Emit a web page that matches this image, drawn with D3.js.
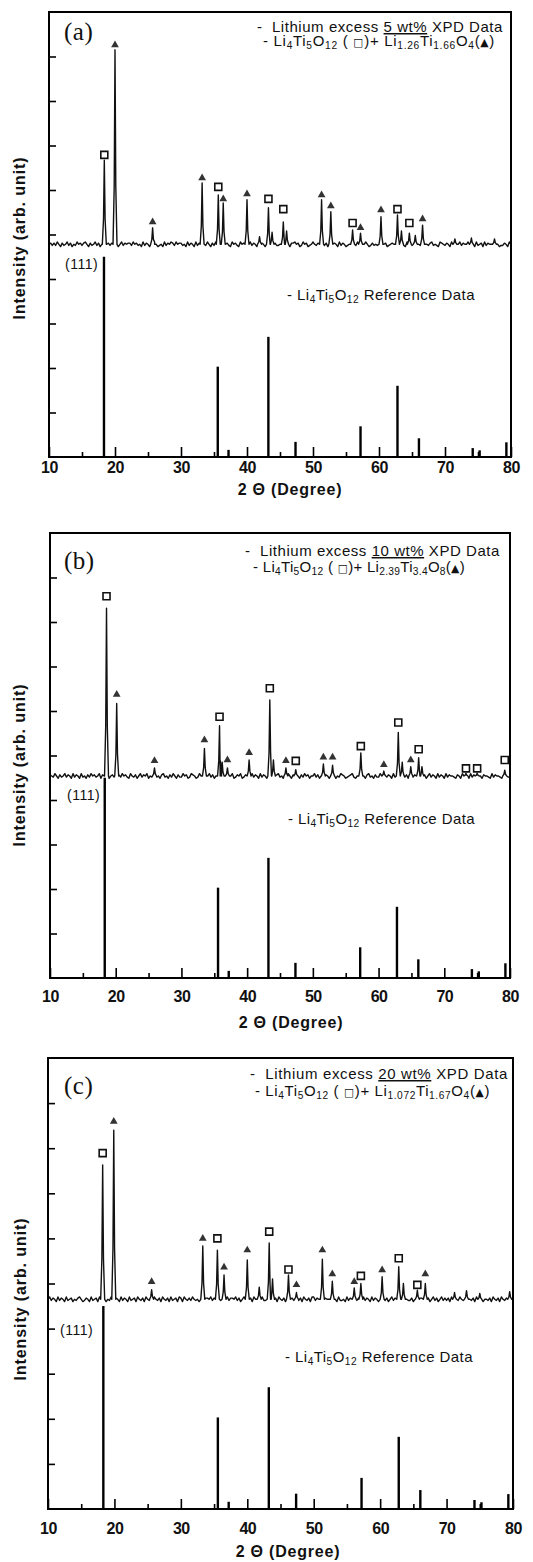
<!DOCTYPE html>
<html>
<head>
<meta charset="utf-8">
<script src="https://cdn.jsdelivr.net/npm/d3@7"></script>
<style>
  body { margin: 0; background: #fff; }
  svg { display: block; }
  text { font-family: "Liberation Sans", Arial, sans-serif; fill: #111; white-space: pre; }
</style>
</head>
<body>
<svg width="533" height="1562"></svg>
<script>
// axis ticks
var xMajor = [10, 20, 30, 40, 50, 60, 70, 80];
var xMinor = [15, 25, 35, 45, 55, 65, 75];
var yTicks = [1, 2, 3, 4, 5, 6, 7, 8, 9];

// Li4Ti5O12 reference pattern (same stick pattern in every panel)
var refPos = [18.33, 35.57, 37.2, 43.24, 47.35, 57.2, 62.8, 66.05, 74.2, 75.25, 79.3];
var refInt = [4.5, 2.03, 0.16, 2.7, 0.34, 0.69, 1.6, 0.42, 0.2, 0.15, 0.33];

// measured peaks: [2theta, peak top, marker height, phase ("s" = Li4Ti5O12, "t" = second phase)]
var peaksA = [
  [18.38, 6.67, 6.79, "s"], [20.0, 9.15, 9.26, "t"], [25.7, 5.15, 5.28, "t"],
  [33.2, 6.16, 6.27, "t"], [35.65, 5.89, 6.07, "s"], [36.4, 5.71, 5.80, "t"],
  [40.0, 5.78, 5.91, "t"], [41.9, 4.95, 0, ""], [43.25, 5.60, 5.80, "s"],
  [43.8, 5.05, 0, ""], [45.5, 5.28, 5.57, "s"], [46.0, 5.08, 0, ""],
  [51.3, 5.78, 5.89, "t"], [52.7, 5.51, 5.64, "t"], [56.0, 5.10, 5.26, "s"],
  [57.2, 5.03, 5.15, "t"], [60.3, 5.40, 5.55, "t"], [62.8, 5.44, 5.57, "s"],
  [63.4, 5.08, 0, ""], [64.6, 5.03, 5.26, "s"], [65.5, 4.98, 0, ""],
  [66.6, 5.21, 5.35, "t"], [71.5, 4.90, 0, ""], [74.0, 4.92, 0, ""], [77.5, 4.90, 0, ""]
];
var peaksB = [
  [18.6, 8.31, 8.58, "s"], [20.15, 6.17, 6.37, "t"], [25.9, 4.72, 4.88, "t"],
  [33.5, 5.16, 5.35, "t"], [35.8, 5.67, 5.87, "s"], [36.2, 4.85, 0, ""],
  [37.0, 4.72, 4.90, "t"], [40.3, 4.90, 5.06, "t"], [43.45, 6.25, 6.51, "s"],
  [44.0, 4.90, 0, ""], [45.9, 4.72, 4.88, "t"], [47.4, 4.68, 4.88, "s"],
  [51.6, 4.81, 4.96, "t"], [53.0, 4.78, 4.96, "t"], [57.3, 5.06, 5.21, "s"],
  [60.8, 4.65, 4.79, "t"], [63.0, 5.52, 5.74, "s"], [63.6, 4.85, 0, ""],
  [64.9, 4.75, 4.90, "t"], [66.1, 4.95, 5.14, "s"], [66.6, 4.75, 0, ""],
  [73.3, 4.60, 4.71, "s"], [75.0, 4.60, 4.71, "s"], [79.2, 4.67, 4.90, "s"]
];
var peaksC = [
  [18.23, 7.63, 7.89, "s"], [19.9, 8.40, 8.59, "t"], [25.6, 4.86, 5.04, "t"],
  [33.3, 5.83, 6.00, "t"], [35.5, 5.74, 6.00, "s"], [36.5, 5.19, 5.36, "t"],
  [40.0, 5.52, 5.74, "t"], [41.8, 4.92, 0, ""], [43.3, 5.90, 6.15, "s"],
  [43.8, 5.10, 0, ""], [46.2, 5.19, 5.31, "s"], [47.4, 4.80, 4.97, "t"],
  [51.3, 5.54, 5.74, "t"], [52.8, 5.05, 5.21, "t"], [56.1, 4.90, 5.04, "t"],
  [57.1, 5.00, 5.17, "s"], [60.3, 5.15, 5.30, "t"], [62.8, 5.37, 5.56, "s"],
  [63.5, 5.00, 0, ""], [65.6, 4.85, 4.97, "s"], [66.8, 5.00, 5.21, "t"],
  [71.2, 4.80, 0, ""], [73.0, 4.84, 0, ""], [75.0, 4.78, 0, ""], [79.5, 4.82, 0, ""]
];

// background level of each measured pattern
var baseA = 4.78, baseB = 4.54, baseC = 4.65;

// baseline noise read every 0.25 deg from 10 to 80 (one digit per step)
var noiseA = "2313142031241302142313420312413021423132" +
             "1302413233142312041320314201204132431423" +
             "3120413204132031420314213042310423104231" +
             "2041320213203142031120314203342301423012" +
             "4213024130241320413201230214031242013121" +
             "0142301232104121043213032104221341210432" +
             "1320413024132241310412304132241320113204" + "2";
var noiseB = "3214203124132041320412031423124032140231" +
             "2031423104213024132402134120341203142031" +
             "1423014320142031241302413204132401324013" +
             "3204132041320314203412031420341203142302" +
             "2413024132041302143201234102431203412031" +
             "1420313204123042130241320412302413204132" +
             "0413221032042130413314203221041322104321" + "1";
var noiseC = "2413204132041230213420132041230413202143" +
             "1320413204123042130421304213042130412304" +
             "3042131421204213324130241102413324130241" +
             "2130421304113042230421304213142130421304" +
             "4132041322413204112041320413244132041320" +
             "0241302413024130211302413324130241302413" +
             "1304213142130421304213022130421304213042" + "2";

// text
var panelLetters = ["(a)", "(b)", "(c)"];
var excessLabels = ["5 wt%", "10 wt%", "20 wt%"];
var secondPhase = [
  ["1.26", "1.66", "4"],
  ["2.39", "3.4", "8"],
  ["1.072", "1.67", "4"]
];

var panels = [
  {peaks: peaksA, base: baseA, noise: noiseA,
   left: 49, right: 511, top: 12, bottom: 457, letterY: 40,
   leg1: [257, 32, 246], leg2: [263, 46, 232], refText: [287, 300, 188], hkl: [65, 269],
   tickPad: 5, title: [290, 495], yTitle: [19, 238]},
  {peaks: peaksB, base: baseB, noise: noiseB,
   left: 50, right: 510, top: 533, bottom: 978, letterY: 569,
   leg1: [245, 556, 255], leg2: [253, 572, 212], refText: [288, 824, 187], hkl: [67, 800],
   tickPad: 13, title: [291, 1028], yTitle: [19.5, 765]},
  {peaks: peaksC, base: baseC, noise: noiseC,
   left: 48, right: 513, top: 1058, bottom: 1509, letterY: 1094,
   leg1: [250, 1079, 258], leg2: [255, 1096, 235], refText: [285, 1362, 188], hkl: [60, 1335],
   tickPad: 14, title: [288, 1557], yTitle: [20, 1299]}
];

var svg = d3.select("svg");

// stretch a text to the width it has in the picture by letter spacing
function fitWidth(t, target) {
  t.style("letter-spacing", "0px");
  var w = t.node().getComputedTextLength();
  var n = t.text().length;
  t.style("letter-spacing", ((target - w) / n) + "px");
}

// text with subscripts: kind 0 normal, 1 subscript, 2 symbol
function richText(g, x, y, parts, size, len) {
  var t = g.append("text").attr("x", x).attr("y", y)
    .style("font-size", size + "px");
  var shift = 0;
  parts.forEach(function(p) {
    var want = p[1] === 1 ? 3 : 0;
    var ts = t.append("tspan").attr("dy", want - shift).text(p[0]);
    shift = want;
    if (p[1] === 1) ts.style("font-size", (size * 0.68) + "px");
    if (p[1] === 2) ts.style("font-size", (size * 0.72) + "px").style("font-family", "DejaVu Sans");
  });
  fitWidth(t, len);
  return t;
}

function buildPattern(peaks, base, noise) {
  var w = 0.3, pts = [];
  for (var i = 0; i < noise.length; i++) {
    var t = 10 + i * 0.25;
    var near = peaks.some(function(p) { return Math.abs(p[0] - t) < w; });
    if (!near) pts.push([t, base + (+noise[i] - 2) * 0.026]);
  }
  peaks.forEach(function(p) {
    var h = p[1] - base;
    pts.push([p[0] - w, base], [p[0] - 0.12, base + h * 0.3], [p[0], p[1]],
             [p[0] + 0.12, base + h * 0.3], [p[0] + w, base]);
  });
  pts.sort(function(a, b) { return a[0] - b[0]; });
  return pts;
}

panels.forEach(function(P, k) {
  var g = svg.append("g");
  var x = d3.scaleLinear().domain([10, 80]).range([P.left, P.right]);
  var y = d3.scaleLinear().domain([0, 10]).range([P.bottom, P.top]);

  // reference sticks
  g.append("g").selectAll("line")
    .data(refPos)
    .enter().append("line")
      .attr("x1", function(d) { return x(d); })
      .attr("x2", function(d) { return x(d); })
      .attr("y1", y(0))
      .attr("y2", function(d, i) { return y(refInt[i]); })
      .attr("stroke", "#000")
      .attr("stroke-width", 2.4);

  // measured pattern
  var line = d3.line()
    .x(function(d) { return x(d[0]); })
    .y(function(d) { return y(d[1]); });
  g.append("path")
    .datum(buildPattern(P.peaks, P.base, P.noise))
    .attr("d", line)
    .attr("fill", "none")
    .attr("stroke", "#111")
    .attr("stroke-width", 1.4)
    .attr("stroke-linejoin", "round");

  // phase markers
  var marked = P.peaks.filter(function(p) { return p[3] !== ""; });
  g.append("g").selectAll("path")
    .data(marked)
    .enter().append("path")
      .attr("transform", function(d) { return "translate(" + x(d[0]) + "," + y(d[2]) + ")"; })
      .attr("d", function(d) {
        return d3.symbol().type(d[3] === "s" ? d3.symbolSquare : d3.symbolTriangle).size(d[3] === "s" ? 49 : 26)();
      })
      .attr("fill", function(d) { return d[3] === "s" ? "#fff" : "#333"; })
      .attr("stroke", function(d) { return d[3] === "s" ? "#111" : "none"; })
      .attr("stroke-width", 1.6);

  // x axis: major and minor ticks pointing inward
  var xa = g.append("g")
    .attr("transform", "translate(0," + P.bottom + ")")
    .call(d3.axisBottom(x).tickValues(xMajor).tickSize(-10).tickPadding(P.tickPad).tickFormat(d3.format("d")))
    .attr("font-family", null).attr("font-size", null);
  xa.select(".domain").remove();
  xa.selectAll("line").attr("stroke-width", 1.6);
  xa.selectAll("text")
    .style("font-size", "16px").style("font-weight", "bold").style("letter-spacing", "-0.5px");

  var xm = g.append("g")
    .attr("transform", "translate(0," + P.bottom + ")")
    .call(d3.axisBottom(x).tickValues(xMinor).tickSize(-5).tickFormat(""));
  xm.select(".domain").remove();
  xm.selectAll("line").attr("stroke-width", 1.6);

  // y axis ticks only
  var ya = g.append("g")
    .attr("transform", "translate(" + P.left + ",0)")
    .call(d3.axisLeft(y).tickValues(yTicks).tickSize(-7).tickFormat(""));
  ya.select(".domain").remove();
  ya.selectAll("line").attr("stroke-width", 1.6);

  // frame
  g.append("rect")
    .attr("x", P.left).attr("y", P.top)
    .attr("width", P.right - P.left).attr("height", P.bottom - P.top)
    .attr("fill", "none").attr("stroke", "#000").attr("stroke-width", 2);

  // panel letter
  g.append("text")
    .attr("x", 64).attr("y", P.letterY)
    .style("font-family", "'Liberation Serif', 'Times New Roman', serif")
    .style("font-size", "25px").style("letter-spacing", "0.5px")
    .text(panelLetters[k]);

  // legend
  var l1 = g.append("text").attr("x", P.leg1[0]).attr("y", P.leg1[1])
    .style("font-size", "15px");
  l1.append("tspan").text("-  Lithium excess ");
  l1.append("tspan").style("text-decoration", "underline").text(excessLabels[k]);
  l1.append("tspan").text(" XPD Data");
  fitWidth(l1, P.leg1[2]);

  var ph = secondPhase[k];
  richText(g, P.leg2[0], P.leg2[1], [
    ["- Li", 0], ["4", 1], ["Ti", 0], ["5", 1], ["O", 0], ["12", 1],
    [" ( ", 0], ["\u25A1", 2], [")+ Li", 0], [ph[0], 1], ["Ti", 0], [ph[1], 1],
    ["O", 0], [ph[2], 1], ["(", 0], ["\u25B2", 2], [")", 0]
  ], 15, P.leg2[2]);

  richText(g, P.refText[0], P.refText[1], [
    ["- Li", 0], ["4", 1], ["Ti", 0], ["5", 1], ["O", 0], ["12", 1], [" Reference Data", 0]
  ], 15, P.refText[2]);

  g.append("text")
    .attr("x", P.hkl[0]).attr("y", P.hkl[1])
    .style("font-size", "14px").style("letter-spacing", "0.5px")
    .text("(111)");

  // axis titles
  g.append("text")
    .attr("x", P.title[0]).attr("y", P.title[1])
    .attr("text-anchor", "middle")
    .style("font-size", "16px").style("font-weight", "bold").style("letter-spacing", "0.8px")
    .text("2 \u0398 (Degree)");

  g.append("text")
    .attr("transform", "translate(" + P.yTitle[0] + "," + P.yTitle[1] + ") rotate(-90)")
    .attr("text-anchor", "middle")
    .attr("dominant-baseline", "central")
    .style("font-size", "16px").style("font-weight", "bold").style("letter-spacing", "0.9px")
    .text("Intensity (arb. unit)");
});
</script>
</body>
</html>
